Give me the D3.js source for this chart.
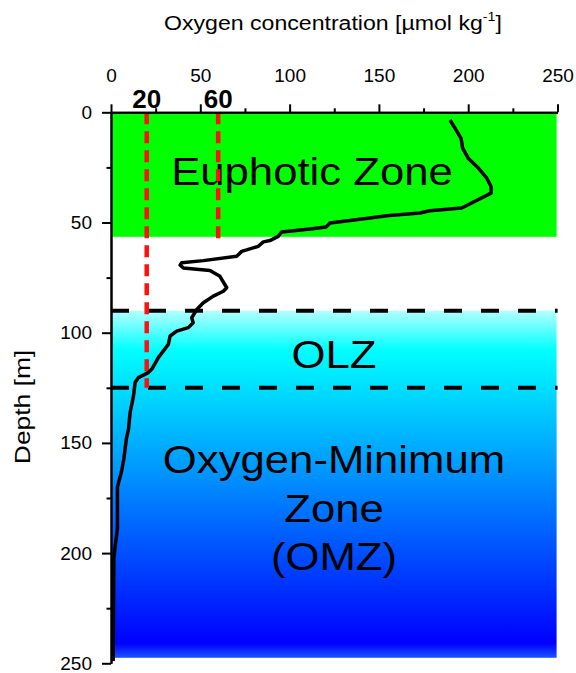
<!DOCTYPE html>
<html>
<head>
<meta charset="utf-8">
<script src="https://cdn.jsdelivr.net/npm/d3@7"></script>
<style>
  html, body { margin: 0; padding: 0; background: #fff; }
  svg { display: block; font-family: "Liberation Sans", Arial, sans-serif; }
</style>
</head>
<body>
<svg id="chart" width="576" height="673"></svg>
<script>
// Dissolved oxygen profile: depth [m] and oxygen [µmol/kg]
const depth = [3.5, 7.2, 11.8, 16.3, 20.8, 25.3, 29.9, 33.7, 36.7, 43.4, 44.7, 45.7, 46.9, 48, 50.2, 52, 52.9,
  54.3, 56.3, 58.2, 58.8, 60.8, 63.1, 65.3, 67.3, 68.3, 69.4, 70.6, 71.8, 74.4, 79.6, 81.2, 83.4, 86.4,
  89.5, 93.2, 95.5, 97.7, 99.3, 101.5, 105.3, 111.3, 116.6, 118.1, 120.4, 122.6, 128.7, 136.2, 143.8,
  148.2, 157.2, 163.3, 170, 188.9, 196.5, 202.5, 249];
const oxygen = [189.8, 192.6, 196, 196.9, 200, 205.7, 210.4, 212.8, 212.8, 196.4, 178.5, 173, 154.4, 145, 122.6, 120.5, 111.5,
  95.5, 93.6, 89, 85.3, 82.5, 73.2, 70.4, 51.7, 39.6, 38.7, 40.5, 55.4, 61, 64.8, 62.9, 57.3, 51.7,
  48, 45.2, 46, 43.3, 36.8, 33.1, 32.1, 26.5, 22.8, 20.9, 15.3, 13.5, 12.6, 10.7, 9.8,
  8.6, 7.2, 5.8, 3.6, 3.6, 2.4, 1.6, 1.2];

// Zone boundaries [m]
const euphoticBottom = 56.5;
const olzTop = 90;
const olzBottom = 125;
const zoneBottom = 247.5;
const zoneRight = 249.5;

// Oxygen thresholds [µmol/kg] and how deep their guide lines reach [m]
const thresholds = [20, 60];
const thresholdDepths = [125, 60];

const majorTicks = [0, 50, 100, 150, 200, 250];
const minorTicks = [25, 75, 125, 175, 225];

const svg = d3.select("#chart");
const x = d3.scaleLinear().domain([0, 250]).range([111, 557.5]);
const y = d3.scaleLinear().domain([0, 250]).range([112.3, 663.3]);

// Gradient for the oxygen-limited layers
const defs = svg.append("defs");
const grad = defs.append("linearGradient")
  .attr("id", "deepGrad").attr("x1", 0).attr("y1", 0).attr("x2", 0).attr("y2", 1);
const span = zoneBottom - olzTop;
[[90, "#b4ffff"], [108, "#00ffff"], [241, "#0000ff"], [247.5, "#1a55ff"]].forEach(([d, c]) => {
  grad.append("stop").attr("offset", (d - olzTop) / span).attr("stop-color", c);
});

// Euphotic zone
svg.append("rect")
  .attr("x", x(0)).attr("y", y(0))
  .attr("width", x(zoneRight) - x(0)).attr("height", y(euphoticBottom) - y(0))
  .attr("fill", "#00ff00");

// OLZ + OMZ
svg.append("rect")
  .attr("x", x(0)).attr("y", y(olzTop))
  .attr("width", x(zoneRight) - x(0)).attr("height", y(zoneBottom) - y(olzTop))
  .attr("fill", "url(#deepGrad)");

// Zone labels
function bigLabel(lines, cx, baseline, step) {
  lines.forEach((t, i) => {
    svg.append("text")
      .attr("transform", `translate(${cx},${baseline + i * step}) scale(1.15,1)`)
      .attr("text-anchor", "middle")
      .attr("font-size", 38)
      .attr("fill", "#000")
      .text(t);
  });
}
bigLabel(["Euphotic Zone"], 312, 185, 0);
bigLabel(["OLZ"], 334, 368, 0);
bigLabel(["Oxygen-Minimum", "Zone", "(OMZ)"], 334, 473, 48.5);

// Layer boundaries
[olzTop, olzBottom].forEach(d => {
  svg.append("line")
    .attr("x1", x(0)).attr("x2", x(zoneRight) + 1)
    .attr("y1", y(d)).attr("y2", y(d))
    .attr("stroke", "#000").attr("stroke-width", 4)
    .attr("stroke-dasharray", "18,19");
});

// Threshold guide lines
thresholds.forEach((v, i) => {
  svg.append("line")
    .attr("x1", x(v)).attr("x2", x(v))
    .attr("y1", y(0)).attr("y2", y(thresholdDepths[i]))
    .attr("stroke", "#ff1010").attr("stroke-width", 4.5)
    .attr("stroke-dasharray", "12,7");
  svg.append("text")
    .attr("x", x(v)).attr("y", 108)
    .attr("text-anchor", "middle")
    .attr("font-size", 26).attr("font-weight", "bold")
    .text(v);
});

// Oxygen profile
const line = d3.line().x((d, i) => x(oxygen[i])).y(d => y(d));
svg.append("path")
  .attr("d", line(depth))
  .attr("fill", "none").attr("stroke", "#000")
  .attr("stroke-width", 3.5).attr("stroke-linejoin", "round");

// Axes
function styleAxis(g) {
  g.selectAll("path.domain").attr("stroke", "#000").attr("stroke-width", 2);
  g.selectAll(".tick line").attr("stroke", "#000").attr("stroke-width", 2);
  g.selectAll(".tick text").attr("fill", "#000").attr("font-size", 19)
    .attr("font-family", "'Liberation Sans', Arial, sans-serif");
}
const topAxis = svg.append("g").attr("transform", `translate(0,${y(0)})`)
  .call(d3.axisTop(x).tickValues(majorTicks).tickSize(8).tickSizeOuter(0).tickPadding(22));
styleAxis(topAxis);
const topMinor = svg.append("g").attr("transform", `translate(0,${y(0)})`)
  .call(d3.axisTop(x).tickValues(minorTicks).tickSize(4).tickSizeOuter(0).tickFormat(""));
styleAxis(topMinor);

const leftAxis = svg.append("g").attr("transform", `translate(${x(0)},0)`)
  .call(d3.axisLeft(y).tickValues(majorTicks).tickSize(9).tickSizeOuter(0).tickPadding(10));
styleAxis(leftAxis);
const leftMinor = svg.append("g").attr("transform", `translate(${x(0)},0)`)
  .call(d3.axisLeft(y).tickValues(minorTicks).tickSize(4.5).tickSizeOuter(0).tickFormat(""));
styleAxis(leftMinor);

// Axis titles
const title = svg.append("text")
  .attr("transform", "translate(333,30) scale(1.1,1)")
  .attr("text-anchor", "middle")
  .attr("font-size", 21);
title.append("tspan").text("Oxygen concentration [µmol kg");
title.append("tspan").attr("font-size", 13).attr("dy", -9).text("-1");
title.append("tspan").attr("dy", 9).text("]");

svg.append("text")
  .attr("transform", "translate(30,407) rotate(-90) scale(1.2,1)")
  .attr("text-anchor", "middle")
  .attr("font-size", 22)
  .text("Depth [m]");
</script>
</body>
</html>
